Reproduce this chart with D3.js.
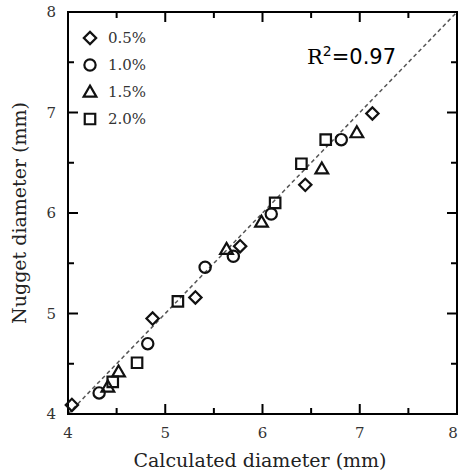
<!DOCTYPE html>
<html><head><meta charset="utf-8">
<script src="https://cdn.jsdelivr.net/npm/d3@7"></script>
<style>body{margin:0;background:#fff}svg{display:block}</style>
</head><body>
<svg id="chart" width="459" height="473"></svg>
<script>
const seriesNames = ["0.5%", "1.0%", "1.5%", "2.0%"];
const seriesShapes = ["diamond", "circle", "triangle", "square"];
const calc05 = [4.04, 4.87, 5.31, 5.77, 6.44, 7.13];
const meas05 = [4.09, 4.95, 5.16, 5.67, 6.28, 6.99];
const calc10 = [4.32, 4.82, 5.41, 5.70, 6.09, 6.81];
const meas10 = [4.21, 4.70, 5.46, 5.57, 5.99, 6.73];
const calc15 = [4.41, 4.52, 5.63, 5.99, 6.61, 6.97];
const meas15 = [4.27, 4.42, 5.64, 5.91, 6.44, 6.80];
const calc20 = [4.46, 4.71, 5.13, 6.13, 6.40, 6.65];
const meas20 = [4.32, 4.51, 5.12, 6.10, 6.49, 6.73];
const xTicks = [4, 5, 6, 7, 8];
const yTicks = [4, 5, 6, 7, 8];
const minorTicks = [4.5, 5.5, 6.5, 7.5];
const r2Label = "0.97";

const svg = d3.select("#chart");
const L = 68, R = 457, T = 12, B = 414;
const x = d3.scaleLinear().domain([4, 8]).range([L, R]);
const y = d3.scaleLinear().domain([4, 8]).range([B, T]);
const serif = "'DejaVu Serif', serif";

// fit line
svg.append("line")
  .attr("x1", x(4)).attr("y1", y(4)).attr("x2", x(8)).attr("y2", y(8))
  .attr("stroke", "#555").attr("stroke-width", 1.5).attr("stroke-dasharray", "4,3");

// ticks (inward, all four sides)
const tickG = svg.append("g").attr("stroke", "#000").attr("stroke-width", 2);
function ticks(vals, len) {
  vals.forEach(v => {
    tickG.append("line").attr("x1", x(v)).attr("x2", x(v)).attr("y1", B).attr("y2", B - len);
    tickG.append("line").attr("x1", x(v)).attr("x2", x(v)).attr("y1", T).attr("y2", T + len);
    tickG.append("line").attr("y1", y(v)).attr("y2", y(v)).attr("x1", L).attr("x2", L + len);
    tickG.append("line").attr("y1", y(v)).attr("y2", y(v)).attr("x1", R).attr("x2", R - len);
  });
}
ticks(xTicks.slice(1, -1), 10);
ticks(minorTicks, 6);

// frame
svg.append("rect").attr("x", L).attr("y", T).attr("width", R - L).attr("height", B - T)
  .attr("fill", "none").attr("stroke", "#000").attr("stroke-width", 2);

// tick labels
svg.append("g").selectAll("text").data(xTicks).join("text")
  .attr("x", d => Math.min(x(d), 453)).attr("y", B + 24).attr("text-anchor", "middle")
  .attr("font-family", serif).attr("font-size", 15).attr("fill", "#333").text(d => d);
svg.append("g").selectAll("text").data(yTicks).join("text")
  .attr("x", L - 12).attr("y", d => y(d) + 5).attr("text-anchor", "end")
  .attr("font-family", serif).attr("font-size", 15).attr("fill", "#333").text(d => d);

// axis titles
svg.append("text").attr("x", 260).attr("y", 467).attr("text-anchor", "middle")
  .attr("font-family", serif).attr("font-size", 19).attr("fill", "#222")
  .text("Calculated diameter (mm)");
svg.append("text").attr("transform", `translate(26,${(T + B) / 2}) rotate(-90)`)
  .attr("text-anchor", "middle").attr("font-family", serif).attr("font-size", 19).attr("fill", "#222")
  .text("Nugget diameter (mm)");

// markers
const symMap = {
  diamond: d3.symbol().type(d3.symbolSquare).size(76),
  circle: d3.symbol().type(d3.symbolCircle).size(100),
  triangle: d3.symbol().type(d3.symbolTriangle).size(70),
  square: d3.symbol().type(d3.symbolSquare).size(110)
};
function markerPath(shape) { return symMap[shape](); }
function rot(shape) { return shape === "diamond" ? " rotate(45)" : ""; }
function ty(shape) { return shape === "triangle" ? 1 : 0; }

const series = [
  {xs: calc05, ys: meas05}, {xs: calc10, ys: meas10},
  {xs: calc15, ys: meas15}, {xs: calc20, ys: meas20}
];
series.forEach((s, i) => {
  const shape = seriesShapes[i];
  const pts = s.xs.map((v, j) => [v, s.ys[j]]);
  svg.append("g").selectAll("path").data(pts).join("path")
    .attr("d", markerPath(shape))
    .attr("transform", d => `translate(${x(d[0])},${y(d[1]) + ty(shape)})${rot(shape)}`)
    .attr("fill", "none").attr("stroke", "#111").attr("stroke-width", 2.2);
});

// legend
const legY = [38, 65, 92, 119];
seriesNames.forEach((name, i) => {
  const shape = seriesShapes[i];
  svg.append("path").attr("d", markerPath(shape))
    .attr("transform", `translate(90,${legY[i] + ty(shape)})${rot(shape)}`)
    .attr("fill", "none").attr("stroke", "#111").attr("stroke-width", 2.2);
  svg.append("text").attr("x", 108).attr("y", legY[i] + 5)
    .attr("font-family", serif).attr("font-size", 15).attr("fill", "#333").text(name);
});

// R^2 label
const rt = svg.append("text").attr("x", 307).attr("y", 64)
  .attr("font-size", 21).attr("fill", "#000");
rt.append("tspan").attr("font-family", serif).text("R");
rt.append("tspan").attr("font-family", "'DejaVu Sans', sans-serif").attr("font-size", 14).attr("dy", -8).text("2");
rt.append("tspan").attr("font-family", "'DejaVu Sans', sans-serif").attr("dy", 8).text("=" + r2Label);
</script>
</body></html>
